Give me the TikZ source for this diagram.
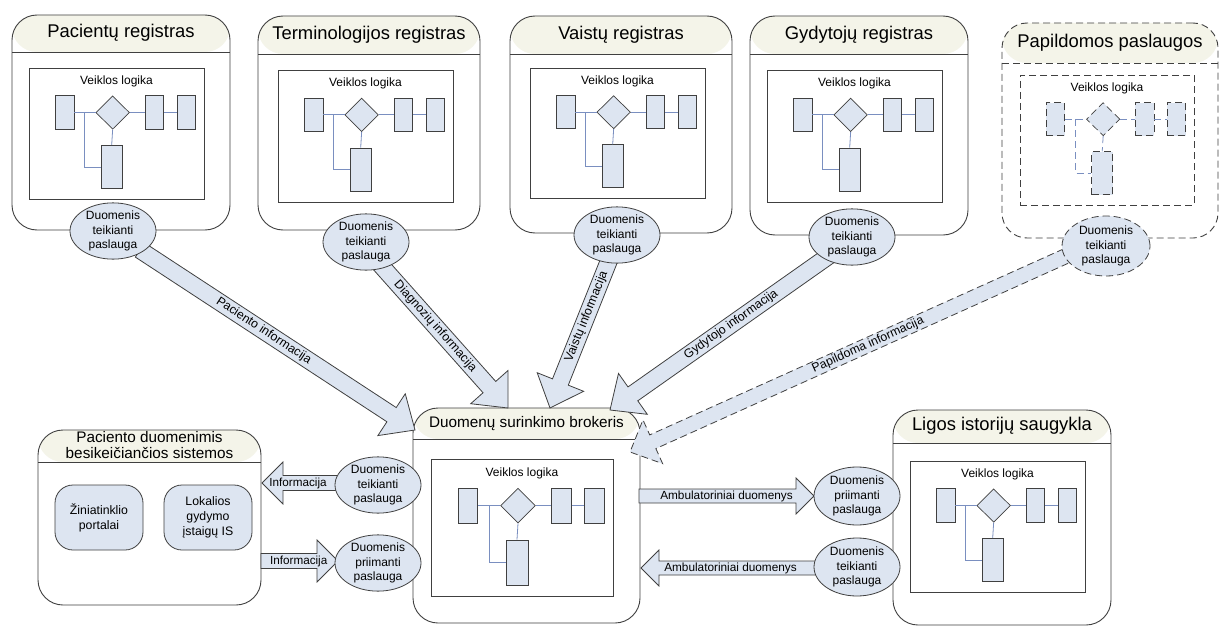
\documentclass[tikz,border=0pt]{standalone}
\usepackage{fontspec}
\setmainfont{Liberation Sans}
\usetikzlibrary{shapes.geometric,calc}
\definecolor{ln}{HTML}{404040}
\definecolor{cream}{HTML}{F4F4E9}
\definecolor{sfill}{HTML}{DDE5F1}
\definecolor{conn}{HTML}{7A8FC0}
\newcommand\myfs[2]{\fontsize{#1}{#2}\selectfont}
\newcommand\logika[6]{%
\begin{scope}[shift={(#2,#3)}]
\node[vl] (#1t) at ({0.5*#4},{0.102*#5}) {Veiklos logika};
\node[sr,#6,minimum width={0.107*#4pt},minimum height={0.255*#5pt}] (#1a) at ({0.203*#4},{0.34*#5}) {};
\node[sd,#6,minimum width={0.192*#4pt},minimum height={0.255*#5pt}] (#1d) at ({0.478*#4},{0.34*#5}) {};
\node[sr,#6,minimum width={0.107*#4pt},minimum height={0.255*#5pt}] (#1c) at ({0.717*#4},{0.34*#5}) {};
\node[sr,#6,minimum width={0.107*#4pt},minimum height={0.255*#5pt}] (#1e) at ({0.8985*#4},{0.34*#5}) {};
\node[sr,#6,minimum width={0.121*#4pt},minimum height={0.329*#5pt}] (#1b) at ({0.4725*#4},{0.755*#5}) {};
\draw[cn,#6] (#1a.east) -- (#1d.west);
\draw[cn,#6] (#1d.east) -- (#1c.west);
\draw[cn,#6] (#1c.east) -- (#1e.west);
\draw[cn,#6] (#1d.south) -- (#1b.north);
\draw[cn,#6] ($(#1a.east)!0.5!(#1d.west)$) |- (#1b.west);
\end{scope}}
\newcommand\blockarrow[6]{%
\coordinate (tmpH) at ($(#3)!#6!(#2)$);
\draw[#1] ($(#2)!#4!90:(#3)$) -- ($(tmpH)!#4!90:(#3)$) -- ($(tmpH)!#5!90:(#3)$) -- (#3) -- ($(tmpH)!#5!-90:(#3)$) -- ($(tmpH)!#4!-90:(#3)$) -- ($(#2)!#4!-90:(#3)$) -- cycle;}
\begin{document}
\begin{tikzpicture}[x=1pt,y=-1pt,
 regbox/.style 2 args={draw=ln, line width=0.9pt, rounded corners=25pt, inner sep=0pt,
   path picture={\fill[cream] (path picture bounding box.north west) rectangle ([yshift=-#1]path picture bounding box.north east);
   \draw[ln, line width=0.9pt, #2] ([yshift=-#1]path picture bounding box.north west) -- ([yshift=-#1]path picture bounding box.north east);}},
 ttl/.style={font=\myfs{18.4}{20}, text=black, inner sep=0pt},
 inbox/.style={draw=ln, line width=0.9pt, fill=white, inner sep=0pt},
 vl/.style={font=\myfs{12}{14}, inner sep=0pt},
 sr/.style={draw=ln, line width=0.7pt, fill=sfill, inner sep=0pt},
 sd/.style={diamond, draw=ln, line width=0.7pt, fill=sfill, inner sep=0pt},
 cn/.style={draw=conn, line width=0.8pt},
 svc/.style={ellipse, draw=ln, fill=sfill, line width=0.8pt, inner sep=0pt, minimum width=86pt, minimum height=54pt, align=center, font=\myfs{12}{14.3}},
 barr/.style={draw=ln, fill=sfill, line width=0.8pt, line join=miter},
 lab/.style={font=\myfs{12.3}{14}, inner sep=0pt},
 dsh/.style={dash pattern=on 7pt off 4pt},
 rnd/.style={draw=ln, fill=sfill, line width=0.8pt, rounded corners=18pt, minimum width=88pt, minimum height=65pt, align=center, font=\myfs{12.3}{15}, inner sep=0pt}
]
\useasboundingbox (0,0) rectangle (1221,626);
\fill[white] (0,0) rectangle (1221,626);

% ---- top registers ----
\node[regbox={37pt}{}, minimum width=218pt, minimum height=215pt] (b1) at (121,122.5) {};
\node[regbox={38pt}{}, minimum width=222pt, minimum height=214pt] (b2) at (369,123) {};
\node[regbox={38pt}{}, minimum width=222pt, minimum height=217pt] (b3) at (621,124.5) {};
\node[regbox={38pt}{}, minimum width=218pt, minimum height=219pt] (b4) at (859,125.5) {};
\node[regbox={40pt}{dsh}, dsh, minimum width=216pt, minimum height=215pt] (b5) at (1110,130.5) {};
\node[ttl] (t1) at ($(b1.north)+(0,18.5)$) {Pacientų registras};
\node[ttl] (t2) at ($(b2.north)+(0,19)$) {Terminologijos registras};
\node[ttl] (t3) at ($(b3.north)+(0,19)$) {Vaistų registras};
\node[ttl] (t4) at ($(b4.north)+(0,19)$) {Gydytojų registras};
\node[ttl] (t5) at ($(b5.north)+(0,20)$) {Papildomos paslaugos};

\node[inbox, minimum width=175pt, minimum height=131pt] (i1) at (116.5,133.5) {};
\node[inbox, minimum width=175pt, minimum height=132pt] (i2) at (365.5,136) {};
\node[inbox, minimum width=175pt, minimum height=130pt] (i3) at (617.5,133) {};
\node[inbox, minimum width=175pt, minimum height=132pt] (i4) at (854.5,136) {};
\node[inbox, dsh, minimum width=174pt, minimum height=130pt] (i5) at (1107,140) {};
\logika{p1}{29}{68}{175}{131}{}
\logika{p2}{278}{70}{175}{132}{}
\logika{p3}{530}{68}{175}{130}{}
\logika{p4}{767}{70}{175}{132}{}
\logika{p5}{1020}{75}{174}{130}{dsh}

% ---- bottom boxes ----
\node[regbox={32pt}{}, minimum width=223pt, minimum height=175pt] (bp) at (149.5,517.5) {};
\node[font=\myfs{15.3}{16}, align=center, inner sep=0pt] (tp) at ($(bp.north)+(0,15.5)$) {Paciento duomenimis\\besikeičiančios sistemos};
\node[rnd] (z1) at (99,517.5) {Žiniatinklio\\portalai};
\node[rnd] (z2) at (208,517.5) {Lokalios\\gydymo\\įstaigų IS};

\node[regbox={31pt}{}, minimum width=227pt, minimum height=215pt] (bb) at (526.5,515.5) {};
\node[font=\myfs{15.3}{17}, inner sep=0pt] (tb) at ($(bb.north)+(0,16)$) {Duomenų surinkimo brokeris};
\node[inbox, minimum width=182pt, minimum height=137pt] (ib) at (522,527.5) {};
\logika{pb}{431}{459}{182}{137}{}

\node[regbox={33pt}{}, minimum width=218pt, minimum height=215pt] (bl) at (1002,517.5) {};
\node[ttl] (tl) at ($(bl.north)+(0,16)$) {Ligos istorijų saugykla};
\node[inbox, minimum width=175pt, minimum height=131pt] (il) at (997.5,526.5) {};
\logika{pl}{910}{461}{175}{131}{}

% ---- arrow end points ----
\coordinate (a1) at (140,250); \coordinate (a1t) at (415,430);
\coordinate (a2) at (378,262); \coordinate (a2t) at (508,408);
\coordinate (a3) at (610,258); \coordinate (a3t) at (550,408);
\coordinate (a4) at (830,255); \coordinate (a4t) at (610,410);
\coordinate (a5) at (1075,252); \coordinate (a5t) at (630,452);
\coordinate (h1) at (345,483); \coordinate (h1t) at (262,483);
\coordinate (h2) at (261,561); \coordinate (h2t) at (338,561);
\coordinate (h3) at (639,496); \coordinate (h3t) at (814,496);
\coordinate (h4) at (820,568); \coordinate (h4t) at (641,568);

\blockarrow{barr}{a1}{a1t}{8.5pt}{25pt}{28pt}
\blockarrow{barr}{a2}{a2t}{8.5pt}{25pt}{28pt}
\blockarrow{barr}{a3}{a3t}{8.5pt}{25pt}{28pt}
\blockarrow{barr}{a4}{a4t}{8.5pt}{25pt}{28pt}
\blockarrow{barr,dsh}{a5}{a5t}{7.5pt}{24pt}{25pt}
\blockarrow{barr}{h1}{h1t}{7.5pt}{21pt}{21pt}
\blockarrow{barr}{h2}{h2t}{7.5pt}{21pt}{21pt}
\blockarrow{barr}{h3}{h3t}{7pt}{18pt}{18pt}
\blockarrow{barr}{h4}{h4t}{7pt}{18pt}{18pt}

\path (a1) -- (a1t) node[lab, sloped, pos=0.45] (l1) {Paciento informacija};
\path (a2) -- (a2t) node[lab, sloped, pos=0.44] (l2) {Diagnozių informacija};
\path (a3) -- (a3t) node[lab, sloped, pos=0.39] (l3) {Vaistų informacija};
\path (a4) -- (a4t) node[lab, sloped, pos=0.45] (l4) {Gydytojo informacija};
\path (a5) -- (a5t) node[lab, sloped, pos=0.465] (l5) {Papildoma informacija};
\path (h1) -- (h1t) node[lab, font=\myfs{11.7}{13}, pos=0.566] (l6) {Informacija};
\path (h2) -- (h2t) node[lab, font=\myfs{11.7}{13}, pos=0.49] (l7) {Informacija};
\path (h3) -- (h3t) node[lab, font=\myfs{11.8}{13}, pos=0.5] (l8) {Ambulatoriniai duomenys};
\path (h4) -- (h4t) node[lab, font=\myfs{11.8}{13}, pos=0.5] (l9) {Ambulatoriniai duomenys};

% ---- service ellipses ----
\node[svc] (e1) at (113,231) {Duomenis\\teikianti\\paslauga};
\node[svc] (e2) at (366,242) {Duomenis\\teikianti\\paslauga};
\node[svc] (e3) at (617,235) {Duomenis\\teikianti\\paslauga};
\node[svc] (e4) at (852,237) {Duomenis\\teikianti\\paslauga};
\node[svc, dsh, minimum width=88pt, minimum height=60pt] (e5) at (1106,246) {Duomenis\\teikianti\\paslauga};
\node[svc] (eb1) at (378,485) {Duomenis\\teikianti\\paslauga};
\node[svc] (eb2) at (378,563) {Duomenis\\priimanti\\paslauga};
\node[svc, minimum height=58pt] (el1) at (857,496) {Duomenis\\priimanti\\paslauga};
\node[svc, minimum height=58pt] (el2) at (857,567) {Duomenis\\teikianti\\paslauga};
\end{tikzpicture}
\end{document}
